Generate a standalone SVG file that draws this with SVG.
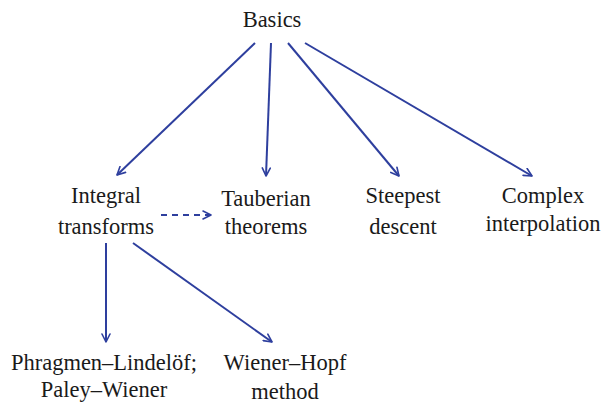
<svg xmlns="http://www.w3.org/2000/svg" width="606" height="403" viewBox="0 0 606 403">
<defs>
<marker id="ah" viewBox="0 0 10 10" refX="9" refY="5" markerWidth="10" markerHeight="10" markerUnits="userSpaceOnUse" orient="auto">
<path d="M1,1 L9,5 L1,9" fill="none" stroke="#2E3F9E" stroke-width="1.6" stroke-linecap="round" stroke-linejoin="round"/>
</marker>
<style>
.c{stroke:#2E3F9E;stroke-width:2;fill:none;marker-end:url(#ah)}
.d{stroke-dasharray:6,5}
</style>
</defs>
<g id="connectors">
<line class="c" x1="255" y1="43" x2="117" y2="175"/>
<line class="c" x1="271" y1="43" x2="266" y2="176"/>
<line class="c" x1="288" y1="43" x2="399" y2="176"/>
<line class="c" x1="305" y1="43" x2="532" y2="176"/>
<line class="c d" x1="161" y1="215" x2="211" y2="215"/>
<line class="c" x1="106" y1="243" x2="106" y2="342"/>
<line class="c" x1="133" y1="243" x2="272" y2="342"/>
</g>
<g id="basics"><text font-family="Liberation Serif" font-size="22.5" fill="#1a1a1a" text-anchor="middle" x="272" y="27">Basics</text></g>
<g id="integral"><text font-family="Liberation Serif" font-size="22.5" fill="#1a1a1a" text-anchor="middle" x="106" y="203">Integral</text><text font-family="Liberation Serif" font-size="22.5" fill="#1a1a1a" text-anchor="middle" x="106" y="234">transforms</text></g>
<g id="tauberian"><text font-family="Liberation Serif" font-size="22.5" fill="#1a1a1a" text-anchor="middle" x="266" y="206">Tauberian</text><text font-family="Liberation Serif" font-size="22.5" fill="#1a1a1a" text-anchor="middle" x="266" y="234">theorems</text></g>
<g id="steepest"><text font-family="Liberation Serif" font-size="22.5" fill="#1a1a1a" text-anchor="middle" x="403" y="203">Steepest</text><text font-family="Liberation Serif" font-size="22.5" fill="#1a1a1a" text-anchor="middle" x="403" y="234">descent</text></g>
<g id="complex"><text font-family="Liberation Serif" font-size="22.5" fill="#1a1a1a" text-anchor="middle" x="543" y="203">Complex</text><text font-family="Liberation Serif" font-size="22.5" fill="#1a1a1a" text-anchor="middle" x="543" y="231">interpolation</text></g>
<g id="phragmen"><text font-family="Liberation Serif" font-size="22.5" fill="#1a1a1a" text-anchor="middle" x="104" y="370">Phragmen–Lindelöf;</text><text font-family="Liberation Serif" font-size="22.5" fill="#1a1a1a" text-anchor="middle" x="104" y="397">Paley–Wiener</text></g>
<g id="wiener"><text font-family="Liberation Serif" font-size="22.5" fill="#1a1a1a" text-anchor="middle" x="285" y="370">Wiener–Hopf</text><text font-family="Liberation Serif" font-size="22.5" fill="#1a1a1a" text-anchor="middle" x="285" y="399">method</text></g>
</svg>
